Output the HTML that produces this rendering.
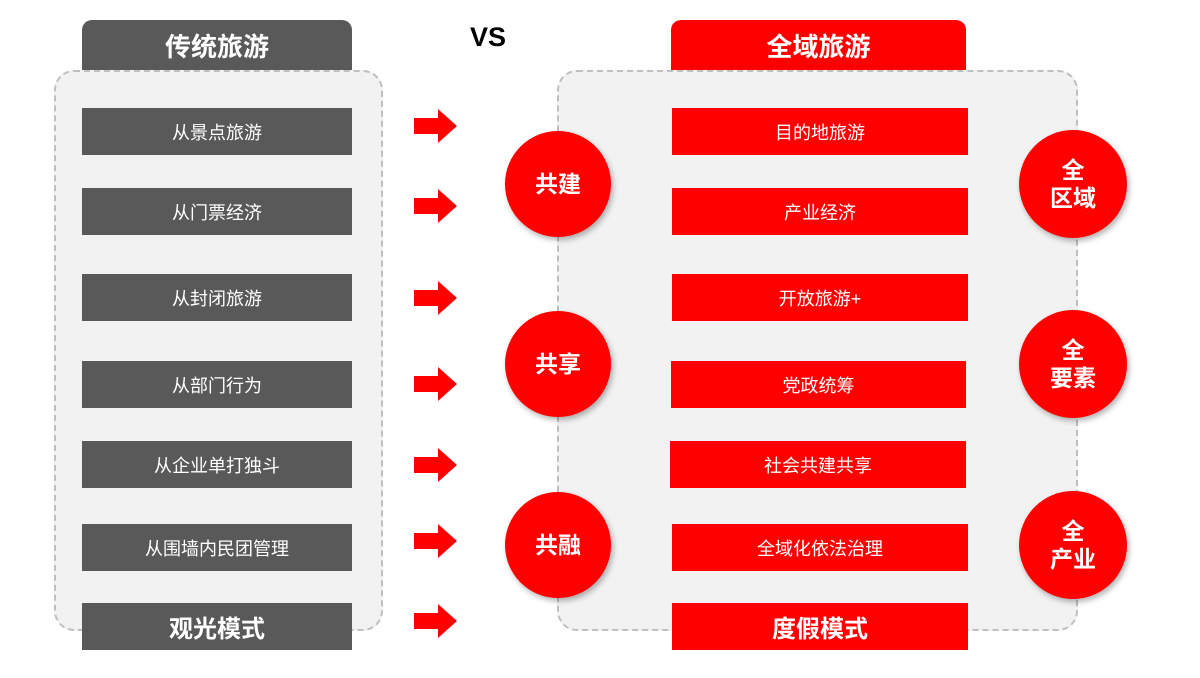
<!DOCTYPE html>
<html><head><meta charset="utf-8"><style>
body{margin:0;width:1200px;height:678px;background:#fff;position:relative;overflow:hidden;font-family:"Liberation Sans","Noto Sans CJK SC",sans-serif}
.a{position:absolute}
.bar{position:absolute;display:flex;align-items:center;justify-content:center;color:#fff;font-size:18px}
.g{background:#595959}.r{background:#f00}
.hd{border-radius:10px 10px 0 0;font-weight:bold;font-size:26px}
.box{position:absolute;border:2px dashed #bfbfbf;border-radius:20px;background:#f2f2f2;box-sizing:border-box}
.c{position:absolute;border-radius:50%;background:#f00;color:#fff;font-weight:bold;font-size:23px;display:flex;align-items:center;justify-content:center;text-align:center;line-height:28px;box-shadow:2px 3px 6px rgba(0,0,0,.3)}
.arr{position:absolute;width:44px;height:34px}
</style></head><body>
<div class="bar g hd" style="left:82px;top:20px;width:270px;height:50px">传统旅游</div>
<div class="bar r hd" style="left:671px;top:20px;width:295px;height:50px">全域旅游</div>
<div class="a" style="left:470px;top:22px;font-weight:bold;font-size:27px">VS</div>
<div class="box" style="left:54px;top:70px;width:329px;height:561px"></div>
<div class="box" style="left:557px;top:70px;width:521px;height:561px"></div>

<div class="bar g" style="left:82px;top:108px;width:270px;height:47px">从景点旅游</div>
<div class="bar g" style="left:82px;top:188px;width:270px;height:47px">从门票经济</div>
<div class="bar g" style="left:82px;top:274px;width:270px;height:47px">从封闭旅游</div>
<div class="bar g" style="left:82px;top:361px;width:270px;height:47px">从部门行为</div>
<div class="bar g" style="left:82px;top:441px;width:270px;height:47px">从企业单打独斗</div>
<div class="bar g" style="left:82px;top:524px;width:270px;height:47px">从围墙内民团管理</div>
<div class="bar g" style="left:82px;top:603px;width:270px;height:47px;font-weight:bold;font-size:24px">观光模式</div>

<div class="bar r" style="left:672px;top:108px;width:296px;height:47px">目的地旅游</div>
<div class="bar r" style="left:672px;top:188px;width:296px;height:47px">产业经济</div>
<div class="bar r" style="left:672px;top:274px;width:296px;height:47px">开放旅游+</div>
<div class="bar r" style="left:671px;top:361px;width:295px;height:47px">党政统筹</div>
<div class="bar r" style="left:670px;top:441px;width:296px;height:47px">社会共建共享</div>
<div class="bar r" style="left:672px;top:524px;width:296px;height:47px">全域化依法治理</div>
<div class="bar r" style="left:672px;top:603px;width:296px;height:47px;font-weight:bold;font-size:24px">度假模式</div>

<svg class="a" style="left:0;top:0" width="1200" height="678">
<defs><path id="ar" d="M0,-8 H24 V-17 L43,0 L24,17 V8 H0 Z" fill="#f00"/></defs>
<use href="#ar" x="414" y="126"/><use href="#ar" x="414" y="206"/><use href="#ar" x="414" y="298"/>
<use href="#ar" x="414" y="384"/><use href="#ar" x="414" y="465"/><use href="#ar" x="414" y="541"/>
<use href="#ar" x="414" y="621"/>
</svg>

<div class="c" style="left:505px;top:131px;width:106px;height:106px">共建</div>
<div class="c" style="left:505px;top:311px;width:106px;height:106px">共享</div>
<div class="c" style="left:505px;top:492px;width:106px;height:106px">共融</div>
<div class="c" style="left:1019px;top:130px;width:108px;height:108px">全<br>区域</div>
<div class="c" style="left:1019px;top:310px;width:108px;height:108px">全<br>要素</div>
<div class="c" style="left:1019px;top:491px;width:108px;height:108px">全<br>产业</div>
</body></html>
